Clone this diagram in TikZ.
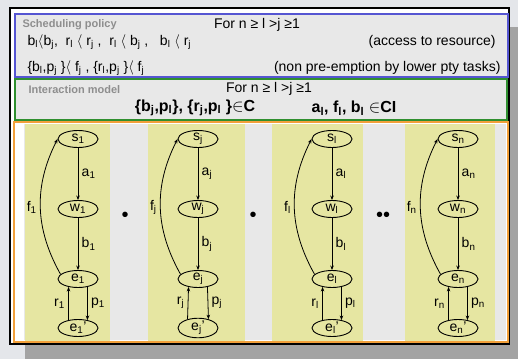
\documentclass[tikz,border=0pt]{standalone}
\usepackage{fontspec}
\setmainfont{Liberation Sans}
\usetikzlibrary{arrows.meta, shapes.geometric}
\definecolor{page-bg}{HTML}{E4E6EA}
\definecolor{shadow-gray}{HTML}{A3A3A3}
\definecolor{panel-gray}{HTML}{E8E8E8}
\definecolor{policy-blue}{HTML}{5555D2}
\definecolor{model-green}{HTML}{2F8F2F}
\definecolor{task-orange}{HTML}{F2A03A}
\definecolor{task-yellow}{HTML}{E6E6A2}
\definecolor{tag-gray}{HTML}{8E8E8E}
\newcommand{\idx}[1]{\textsubscript{#1}}

\begin{document}
\begin{tikzpicture}[x=1pt, y=1pt, >={Stealth[length=4.5pt,width=3.5pt]},
  every node/.style={font=\fontsize{14}{16}\selectfont},
  state/.style={draw, ellipse, line width=0.9pt, minimum width=40pt, minimum height=17pt, inner sep=0pt},
  tag/.style={font=\fontsize{11}{13}\selectfont\bfseries, text=tag-gray}]
  \useasboundingbox (0,0) rectangle (518,359);
  \fill[page-bg] (0,0) rectangle (518,359);
  \fill[shadow-gray] (25,0) rectangle (518,332);
  \draw[line width=2pt, fill=white] (10,15) rectangle (509,351);
  \draw[policy-blue, line width=1.5pt, fill=panel-gray] (15,282) rectangle (508,345);
  \draw[model-green, line width=1.5pt, fill=panel-gray] (15,239) rectangle (507,280);
  \draw[task-orange, line width=1.5pt, fill=white] (14,17) rectangle (508,237);
  \fill[panel-gray] (24,19) rectangle (506,235);
  \foreach \l/\r in {25/110, 148/245, 272/363, 405/495}
    \fill[task-yellow] (\l,18) rectangle (\r,235);

  \node[tag, anchor=west] (policy) at (19,334) {Scheduling policy};
  \node (range1) at (257,334) {For n ≥ l >j ≥1};
  \node[anchor=west] (access) at (24,317) {b\idx{l}$\langle$b\idx{j}, \ r\idx{l} $\langle$ r\idx{j} , \ r\idx{l} $\langle$ b\idx{j} , \ \ b\idx{l} $\langle$ r\idx{j}};
  \node[anchor=east] (accessnote) at (499,317) {(access to resource)};
  \node[anchor=west] (preempt) at (24,291) {\{b\idx{l},p\idx{j} \}$\langle$ f\idx{j} , \{r\idx{l},p\idx{j} \}$\langle$ f\idx{j}};
  \node[anchor=east] (preemptnote) at (504,291) {(non pre-emption by lower pty tasks)};

  \node[tag, anchor=west] (model) at (25,269) {Interaction model};
  \node (range2) at (269,270) {For n ≥ l >j ≥1};
  \node[font=\fontsize{16}{18}\selectfont\bfseries] (sync) at (195,251) {\{b\idx{j},p\idx{l}\}, \{r\idx{j},p\idx{l} \}$\in$C};
  \node[font=\fontsize{16}{18}\selectfont\bfseries] (async) at (354,251) {a\idx{l}, f\idx{l}, b\idx{l} $\in$CI};

  \foreach \k/\x/\i in {1/78/1, 2/198/j, 3/332/l, 4/458/n} {
    \node[state] (s\k) at (\x,220) {s\idx{\i}};
    \node[state] (w\k) at (\x,150) {w\idx{\i}};
    \node[state] (e\k) at (\x,80) {e\idx{\i}};
    \node[state] (q\k) at (\x,31) {e\idx{\i}'};
    \draw[->, line width=0.8pt] (s\k) -- node[right] {a\idx{\i}} (w\k);
    \draw[->, line width=0.8pt] (w\k) -- node[right] {b\idx{\i}} (e\k);
    \draw[->, line width=0.8pt] (e\k.165) to[bend left=28] node[left] {f\idx{\i}} (s\k.180);
    \draw[->, line width=0.8pt] (q\k.140) -- node[left] {r\idx{\i}} (e\k.220);
    \draw[->, line width=0.8pt] (e\k.320) -- node[right] {p\idx{\i}} (q\k.40);
  }
  \node[font=\fontsize{20}{22}\selectfont] (dot1) at (125,142) {•};
  \node[font=\fontsize{20}{22}\selectfont] (dot2) at (253,142) {•};
  \node[font=\fontsize{20}{22}\selectfont] (dot3) at (383,142) {••};
\end{tikzpicture}
\end{document}
